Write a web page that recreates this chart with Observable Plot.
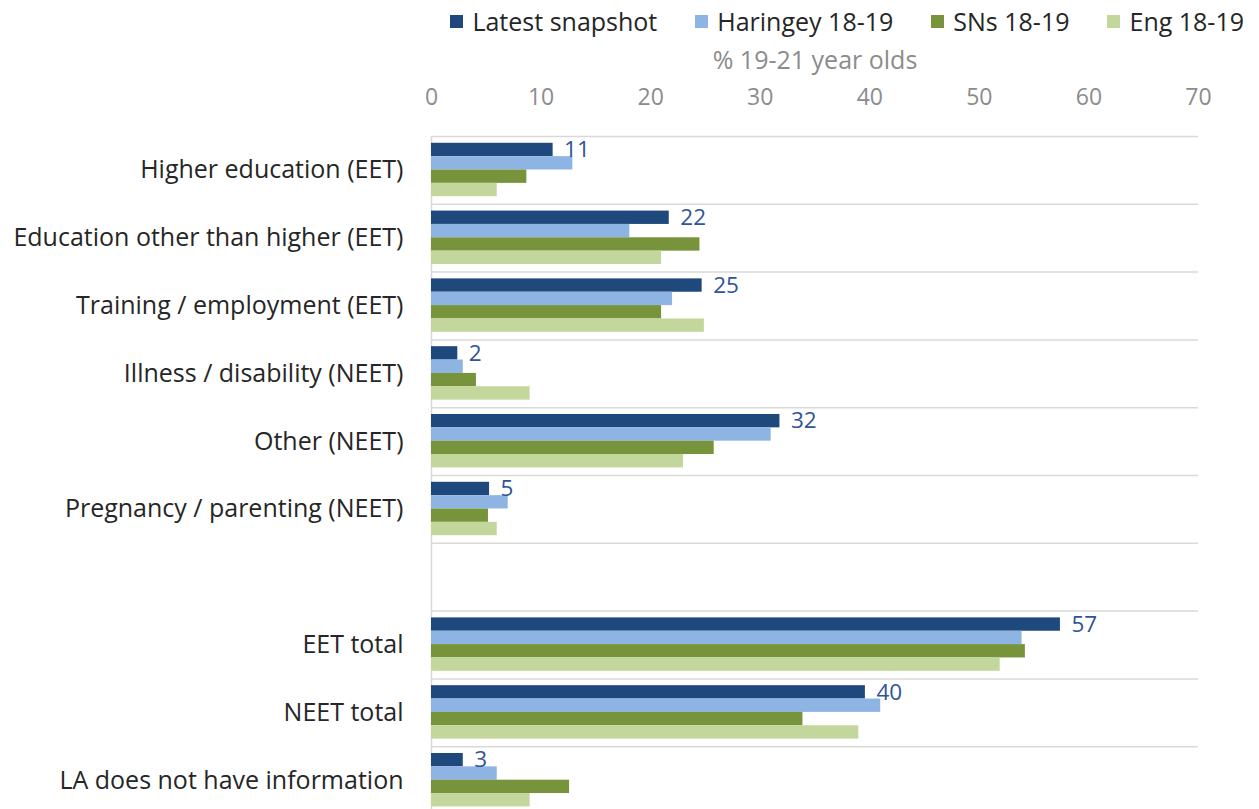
<!DOCTYPE html>
<html><head><meta charset="utf-8">
<script src="https://cdn.jsdelivr.net/npm/d3@7"></script>
<script src="https://cdn.jsdelivr.net/npm/@observablehq/plot@0.6"></script>
<style>
body{margin:0;background:#fff;font-family:"Open Sans",sans-serif;}
#legend{height:42px;display:flex;justify-content:flex-end;align-items:center;padding-right:15px;box-sizing:border-box;font-size:25px;color:#262626;}
#legend .item{display:flex;align-items:center;margin-left:38px;}
#legend .sw{width:13px;height:13px;margin-right:9px;}
</style></head><body>
<div id="legend"></div><div id="chart"></div>
<script>
const FONT = '"Open Sans", sans-serif';
const categories = ["Higher education (EET)", "Education other than higher (EET)", "Training / employment (EET)", "Illness / disability (NEET)", "Other (NEET)", "Pregnancy / parenting (NEET)", "", "EET total", "NEET total", "LA does not have information"];
const seriesNames = ["Latest snapshot", "Haringey 18-19", "SNs 18-19", "Eng 18-19"];
const colors = ["#1f497d", "#8eb4e3", "#77933c", "#c3d69b"];
const latest   = [11.1, 21.7, 24.7, 2.4, 31.8, 5.3, null, 57.4, 39.6, 2.9];
const haringey = [12.9, 18.1, 22.0, 2.9, 31.0, 7.0, null, 53.9, 41.0, 6.0];
const sns      = [8.7, 24.5, 21.0, 4.1, 25.8, 5.2, null, 54.2, 33.9, 12.6];
const eng      = [6.0, 21.0, 24.9, 9.0, 23.0, 6.0, null, 51.9, 39.0, 9.0];
const xTicks = [0, 10, 20, 30, 40, 50, 60, 70];
const axisTitle = "% 19-21 year olds";

const seriesValues = [latest, haringey, sns, eng];
const data = [];
categories.forEach((c, ci) => seriesNames.forEach((s, si) => {
  const v = seriesValues[si][ci];
  if (v != null) data.push({category: c, ci, series: s, si, value: v});
}));
const labelData = data.filter(d => d.si === 0);

// legend
const leg = d3.select("#legend");
seriesNames.forEach((s, i) => {
  const it = leg.append("div").attr("class", "item");
  it.append("div").attr("class", "sw").style("background", colors[i]);
  it.append("span").text(s);
});

const pad = 0.1, bh = 0.197;
const chart = Plot.plot({
  width: 1259, height: 772,
  marginTop: 94, marginLeft: 431, marginRight: 61, marginBottom: 0,
  x: {domain: [0, 70]},
  y: {domain: [categories.length, 0]},
  color: {domain: seriesNames, range: colors},
  style: {fontFamily: FONT, background: "#fff"},
  marks: [
    Plot.ruleY(d3.range(categories.length), {x1: 0, x2: 70, stroke: "#d9d9d9", strokeWidth: 1.5}),
    Plot.ruleX([0], {stroke: "#d9d9d9", strokeWidth: 1.5}),
    Plot.rectX(data, {x1: 0, x2: "value", y1: d => d.ci + pad + d.si * bh, y2: d => d.ci + pad + (d.si + 1) * bh, fill: "series"}),
    Plot.text(labelData, {x: "value", y: d => d.ci + pad + bh / 2, text: d => d3.format(".0f")(d.value), dx: 11, textAnchor: "start", fill: "#2f5597", fontSize: 22.5}),
    Plot.axisX(xTicks, {anchor: "top", tickSize: 0, tickPadding: 32, fontSize: 23, color: "#8c8c8c", label: null}),
    Plot.axisY(d3.range(categories.length).map(i => i + 0.5), {tickFormat: v => categories[Math.floor(v)], tickSize: 0, tickPadding: 28, fontSize: 25, color: "#262626", label: null}),
    Plot.text([axisTitle], {frameAnchor: "top", lineAnchor: "middle", dy: -76, fill: "#8c8c8c", fontSize: 25})
  ]
});
document.getElementById("chart").appendChild(chart);
</script>
</body></html>
